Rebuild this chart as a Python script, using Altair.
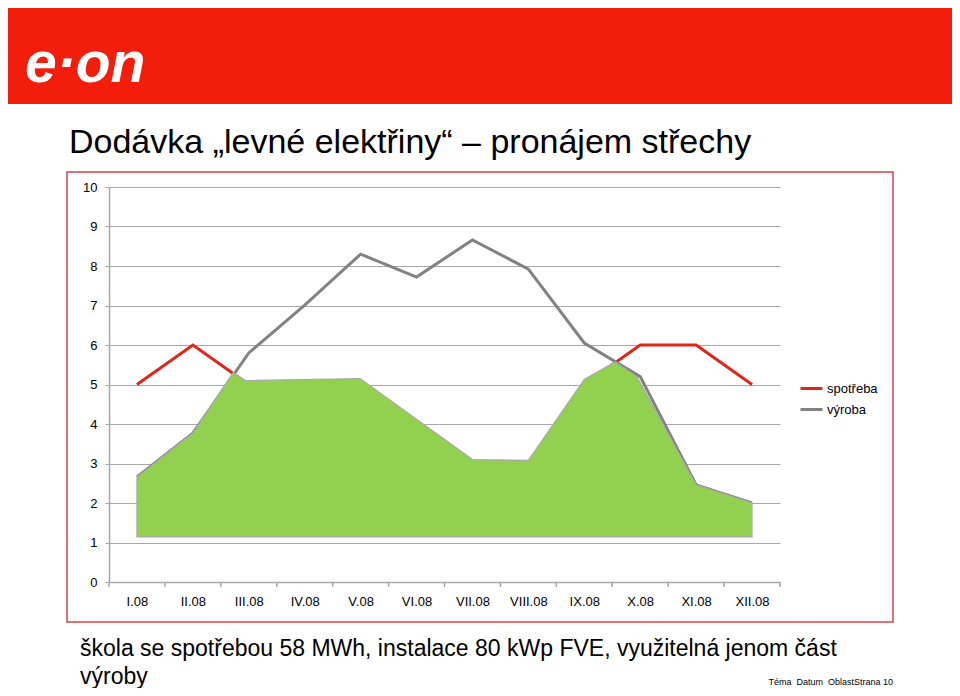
import json
import altair as alt
import pandas as pd

# ---- data ----
months = ["I.08", "II.08", "III.08", "IV.08", "V.08", "VI.08",
          "VII.08", "VIII.08", "IX.08", "X.08", "XI.08", "XII.08"]
series_names = ["spotřeba", "výroba"]
spotreba = [5, 6, 5, 5, 5, 4, 3, 3, 5, 6, 6, 5]
vyroba = [2.66, 3.77, 5.8, 7.01, 8.3, 7.72, 8.66, 7.92, 6.05, 5.2, 2.46, 2.0]
# usable part (green polygon): month position and upper edge
green_pos = [0, 1, 1.72, 1.93, 3.99, 6.0, 7.0, 8.0, 8.55, 8.94, 10.0, 11.0]
green_top = [2.66, 3.77, 5.3, 5.1, 5.15, 3.1, 3.08, 5.13, 5.57, 5.2, 2.46, 2.0]
green_bottom = 1.14
y_ticks = list(range(0, 11))

title_text = "Dodávka „levné elektřiny“ – pronájem střechy"
footer_1 = "škola se spotřebou 58 MWh, instalace 80 kWp FVE, využitelná jenom část"
footer_2 = "výroby"
footer_small = "Téma\u00a0\u00a0Datum\u00a0\u00a0OblastStrana 10"
logo_text = "e·on"

RED = "#e0261b"
GRAY = "#828282"
GREEN = "#92d050"
GRID = "#a8a8a8"
BANNER = "#f21d0a"
BORDER = "#cf4448"
FONT = "Liberation Sans"

W, H = 671, 395

idx = list(range(len(months)))
df_lines = pd.DataFrame({
    "idx": idx * 2,
    "value": spotreba + vyroba,
    "serie": [series_names[0]] * len(months) + [series_names[1]] * len(months),
})
df_green = pd.DataFrame({"idx": green_pos, "value": green_top,
                         "bottom": [green_bottom] * len(green_pos)})
df_ticks = pd.DataFrame({"idx": [i - 0.5 for i in range(len(months) + 1)],
                         "value": [0] * (len(months) + 1)})

x_enc = alt.X(
    "idx:Q",
    scale=alt.Scale(domain=[-0.5, len(months) - 0.5], nice=False, zero=False),
    axis=alt.Axis(values=idx, labelExpr=f"{json.dumps(months)}[datum.value]",
                  ticks=False, grid=False, labelPadding=13, labelFontSize=13,
                  labelFont=FONT, labelColor="#000000", domainColor=GRID,
                  domainWidth=1.5, title=None),
)
y_enc = alt.Y(
    "value:Q",
    scale=alt.Scale(domain=[0, 10], nice=False),
    axis=alt.Axis(values=y_ticks, grid=True, gridColor=GRID, gridWidth=1.2,
                  tickSize=4, tickColor=GRID, labelPadding=8, labelFontSize=13,
                  labelFont=FONT, labelColor="#000000", domainColor=GRID,
                  domainWidth=1.5, title=None, labelOverlap=False,
                  tickCount=11),
)

lines = alt.Chart(df_lines).mark_line(strokeWidth=3).encode(
    x=x_enc, y=y_enc,
    color=alt.Color("serie:N",
                    scale=alt.Scale(domain=series_names, range=[RED, GRAY]),
                    legend=alt.Legend(orient="none", legendX=690, legendY=189,
                                      title=None, symbolType="stroke",
                                      symbolStrokeWidth=3, symbolSize=484,
                                      labelFontSize=13, labelFont=FONT,
                                      rowPadding=1, labelOffset=3, padding=0)),
)

green = alt.Chart(df_green).mark_area(color=GREEN, stroke="#a9a9a9",
                                      strokeWidth=1.2, opacity=1).encode(
    x=x_enc, y=y_enc, y2="bottom:Q")

ticks = alt.Chart(df_ticks).mark_rule(color=GRID, strokeWidth=1.5).encode(
    x=x_enc, y=alt.value(H), y2=alt.value(H + 5))


def txt(s, x, y, **kw):
    return alt.Chart(pd.DataFrame({"t": [s]})).mark_text(
        baseline="alphabetic", font=FONT, **kw).encode(
        x=alt.value(x), y=alt.value(y), text="t:N")


banner = alt.Chart(pd.DataFrame({"t": [1]})).mark_rect(color=BANNER).encode(
    x=alt.value(-101), x2=alt.value(843), y=alt.value(-179), y2=alt.value(-83))
border = alt.Chart(pd.DataFrame({"t": [1]})).mark_rect(
    fillOpacity=0, stroke=BORDER, strokeWidth=1.5).encode(
    x=alt.value(-42), x2=alt.value(784), y=alt.value(-15), y2=alt.value(435))

logo = txt(logo_text, -84, -105, align="left", fontSize=57,
           fontWeight="bold", fontStyle="italic", color="#ffffff")
title = txt(title_text, -40, -34, align="left", fontSize=34, color="#000000")
f1 = txt(footer_1, -29, 469, align="left", fontSize=23, color="#000000")
f2 = txt(footer_2, -29, 497, align="left", fontSize=23, color="#000000")
f3 = txt(footer_small, 784, 498, align="right", fontSize=9, color="#000000")

chart = alt.layer(
    banner, border, lines, green, ticks, logo, title, f1, f2, f3
).properties(
    width=W, height=H,
    padding={"left": 101, "top": 179, "right": 172, "bottom": 106},
    autosize=alt.AutoSizeParams(type="none"),
    background="#ffffff",
).configure_view(stroke=None)

chart.save("out.html", embed_options={"renderer": "svg", "actions": False})
